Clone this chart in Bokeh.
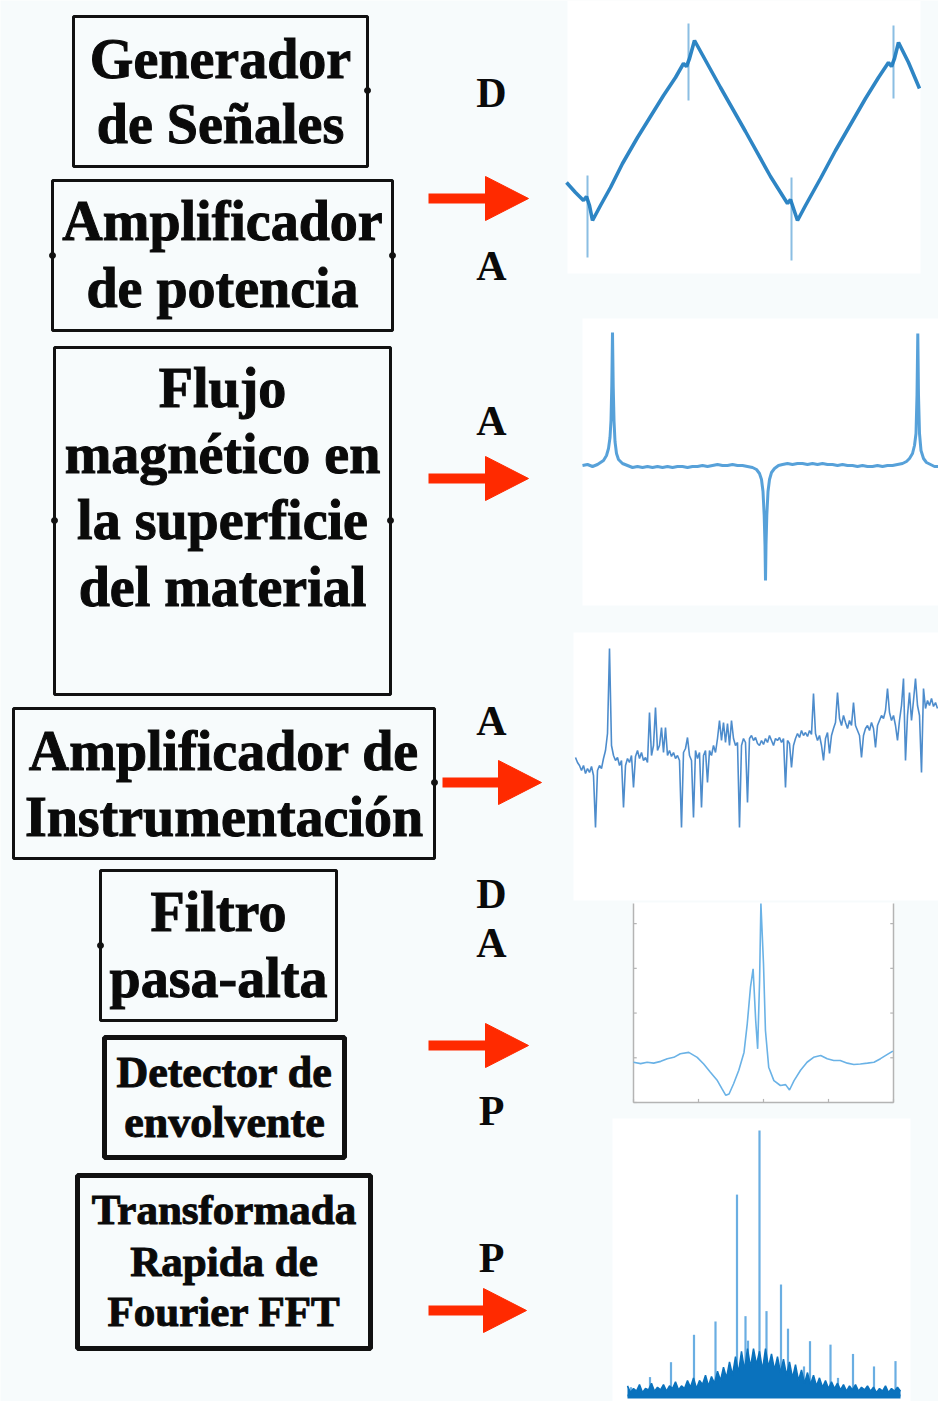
from bokeh.plotting import figure
from bokeh.models import Range1d
from bokeh.embed import file_html
from bokeh.resources import INLINE
from bokeh.core.properties import value

# ---------------- DATA ----------------
# Panel 1 - triangular excitation (time in ms, amplitude in V)
tri_t = [0.0, 0.9, 1.7, 2.0, 2.3, 2.6, 3.4, 4.4, 5.6, 7.1, 8.4, 9.7, 10.9, 11.7, 12.0, 12.3,
         12.8, 15.4, 17.9, 20.4, 22.1, 22.4, 22.7, 23.1, 23.9, 25.4, 26.9, 28.4, 29.9, 31.2,
         32.2, 32.5, 32.8, 33.2, 34.2, 35.3]
tri_v = [-0.52, -0.62, -0.70, -0.66, -0.75, -0.90, -0.75, -0.57, -0.33, -0.07, 0.14, 0.35, 0.53,
         0.67, 0.64, 0.72, 0.90, 0.43, -0.01, -0.46, -0.73, -0.69, -0.78, -0.90, -0.75, -0.48,
         -0.20, 0.06, 0.32, 0.53, 0.68, 0.64, 0.72, 0.88, 0.68, 0.42]
tri_spike_t = [2.1, 12.2, 22.5, 32.7]
tri_spike_lo = [-1.27, 0.30, -1.30, 0.32]
tri_spike_hi = [-0.45, 1.07, -0.47, 1.05]

# Panel 2 - magnetic flux at the material surface (time in ms, normalised flux)
flux_t = [0.0, 0.5, 1.0, 1.5, 1.8, 2.1, 2.4, 2.6, 2.75, 2.85, 2.93, 3.0, 3.07, 3.15, 3.25, 3.4,
          3.6, 4.0, 4.5, 5.0, 5.5, 6.0, 6.5, 7.0, 7.5, 8.0, 8.5, 9.0, 9.5, 10.0, 10.5, 11.0,
          11.5, 12.0, 12.5, 13.0, 13.5, 14.0, 14.5, 15.0, 15.5, 16.0, 16.5, 17.0, 17.4, 17.7,
          17.9, 18.05, 18.17, 18.25, 18.3, 18.35, 18.43, 18.55, 18.7, 18.9, 19.2, 19.6, 20.0,
          20.5, 21.0, 21.5, 22.0, 22.5, 23.0, 23.5, 24.0, 24.5, 25.0, 25.5, 26.0, 26.5, 27.0,
          27.5, 28.0, 28.5, 29.0, 29.5, 30.0, 30.5, 31.0, 31.5, 32.0, 32.4, 32.7, 33.0, 33.2,
          33.35, 33.45, 33.53, 33.6, 33.7, 33.85, 34.1, 34.4, 34.8, 35.2, 35.6]
flux_b = [0.00, 0.01, -0.01, 0.01, 0.03, 0.05, 0.10, 0.17, 0.28, 0.45, 0.80, 1.33, 0.80, 0.45,
          0.24, 0.12, 0.06, 0.02, 0.00, -0.02, -0.01, -0.02, -0.01, -0.02, -0.01, -0.02, -0.01,
          -0.02, -0.01, -0.01, -0.02, -0.01, -0.01, 0.00, -0.01, 0.00, 0.01, 0.00, 0.00, 0.01,
          0.00, 0.00, -0.01, -0.02, -0.04, -0.08, -0.14, -0.26, -0.50, -0.80, -1.15, -0.80,
          -0.50, -0.26, -0.14, -0.07, -0.03, 0.00, 0.01, 0.02, 0.01, 0.02, 0.02, 0.01, 0.02,
          0.01, 0.02, 0.01, 0.01, 0.00, 0.01, 0.00, 0.00, -0.01, 0.00, -0.01, -0.01, 0.00,
          -0.01, 0.00, 0.00, 0.01, 0.02, 0.04, 0.07, 0.12, 0.20, 0.32, 0.70, 1.32, 0.70, 0.32,
          0.15, 0.07, 0.03, 0.01, -0.01, -0.01]

# Panel 3 - instrumentation amplifier output (sample index, mV)
ins_n = list(range(182))
ins_v = [3, -2, -5, -10, -5, -13, -8, -12, -6, -15, -67, -10, -5, -8, 2, 10, 27, 112, 15, 5,
         0, 3, -5, 0, -47, -5, 2, -2, 5, -27, 4, 10, 2, 8, 0, 3, -2, 48, 5, 15,
         53, 10, 15, 33, 8, 33, 5, 10, 4, 8, 2, 5, 0, -67, 8, 12, 23, 5, 0, -57,
         10, 2, 8, -47, 5, 10, -22, 10, 5, 15, 8, 22, 40, 20, 38, 18, 37, 15, 40, 22,
         15, 18, -67, 15, 22, 18, -42, 22, 25, 20, 23, 17, 15, 20, 16, 22, 18, 25, 20, 15,
         22, 20, 23, 18, 22, -27, 20, 17, -7, 15, 22, 27, 23, 30, 25, 28, 24, 30, 26, 67,
         27, 20, 25, 15, 0, 22, 28, 7, 25, 32, 38, 68, 42, 35, 45, 38, 32, 40, 35, 58,
         35, 30, 25, 3, 25, 32, 35, 30, 38, 32, 13, 35, 40, 45, 42, 50, 72, 48, 40, 45,
         35, 20, 40, 55, 82, 0, 45, 68, 40, 60, 82, 55, 45, -12, 72, 52, 60, 55, 62, 54,
         58, 52]

# Panel 4 - high-pass filter / envelope (time in s, amplitude)
env_t = [0.00, 0.11, 0.21, 0.31, 0.42, 0.52, 0.62, 0.72, 0.85, 0.98, 1.08, 1.18, 1.29, 1.36,
         1.42, 1.47, 1.54, 1.62, 1.70, 1.75, 1.80, 1.84, 1.88, 1.91, 1.94, 1.96, 2.00, 2.03,
         2.08, 2.16, 2.26, 2.34, 2.40, 2.47, 2.57, 2.67, 2.77, 2.88, 2.98, 3.08, 3.18, 3.29,
         3.39, 3.49, 3.60, 3.70, 3.80, 3.90, 3.99]
env_a = [0.90, 0.87, 0.90, 0.88, 0.92, 0.98, 1.01, 1.09, 1.12, 1.01, 0.86, 0.68, 0.49, 0.31,
         0.16, 0.19, 0.42, 0.72, 1.12, 1.76, 2.58, 2.99, 1.83, 1.20, 2.73, 4.45, 3.10, 1.61,
         0.79, 0.49, 0.38, 0.40, 0.28, 0.49, 0.72, 0.90, 1.01, 1.05, 0.98, 0.94, 0.94, 0.88,
         0.85, 0.86, 0.88, 0.90, 0.98, 1.07, 1.15]
env_xticks = [0, 1, 2, 3, 4]
env_yticks = [0, 1, 2, 3, 4]

# Panel 5 - FFT spectrum (frequency in Hz, normalised magnitude)
fft_peak_f = [7, 45, 87, 133, 176, 219, 236, 241, 264, 278, 307, 321, 353, 365, 406, 421, 451, 493, 536]
fft_peak_m = [0.035, 0.073, 0.129, 0.232, 0.282, 0.759, 0.302, 0.21, 1.0, 0.321, 0.421, 0.255,
              0.113, 0.208, 0.195, 0.07, 0.16, 0.113, 0.133]
fft_floor_f = list(range(0, 547, 6))
fft_floor_m = [0.04, 0.015, 0.03, 0.02, 0.045, 0.015, 0.03, 0.025, 0.05, 0.02, 0.035,
               0.025, 0.045, 0.02, 0.04, 0.03, 0.055, 0.025, 0.04, 0.03, 0.06,
               0.035, 0.07, 0.03, 0.06, 0.045, 0.08, 0.04, 0.075, 0.05, 0.095,
               0.06, 0.11, 0.07, 0.13, 0.08, 0.15, 0.09, 0.17, 0.10, 0.18,
               0.11, 0.18, 0.12, 0.17, 0.10, 0.18, 0.11, 0.16, 0.10, 0.15,
               0.09, 0.14, 0.08, 0.13, 0.07, 0.12, 0.06, 0.10, 0.05, 0.09,
               0.045, 0.08, 0.04, 0.07, 0.035, 0.06, 0.03, 0.055, 0.03, 0.05,
               0.025, 0.045, 0.02, 0.04, 0.025, 0.045, 0.02, 0.035, 0.025, 0.04,
               0.02, 0.035, 0.015, 0.03, 0.02, 0.04, 0.015, 0.03, 0.02, 0.035, 0.02]

# Block diagram texts
block_lines = [
    ["Generador", "de Señales"],
    ["Amplificador", "de potencia"],
    ["Flujo", "magnético en", "la superficie", "del material"],
    ["Amplificador de", "Instrumentación"],
    ["Filtro", "pasa-alta"],
    ["Detector de", "envolvente"],
    ["Transformada", "Rapida de", "Fourier FFT"],
]
stage_letters = ["D", "A", "A", "A", "D", "A", "P", "P"]

# ---------------- LAYOUT ----------------
W, H = 938, 1401
BG = "#f7fbfc"
p = figure(width=W, height=H, x_range=Range1d(0, W), y_range=Range1d(H, 0),
           output_backend="svg", toolbar_location=None, min_border=0)
p.axis.visible = False
p.grid.visible = False
p.outline_line_color = None
p.background_fill_color = BG
p.border_fill_color = BG

SERIF = value("Liberation Serif")
INK = "#0a0a0a"

# boxes: left, right, top, bottom, border width, font size, line y centres
boxes = [
    (73, 367, 16, 166, 3, 56, [58, 123]),
    (52, 392, 180, 330, 3, 56, [220, 287]),
    (54, 390, 347, 694, 3, 56, [387, 453, 519, 586]),
    (13, 434, 708, 858, 3, 56, [750, 816]),
    (100, 336, 870, 1020, 3, 56, [911, 977]),
    (104, 344, 1037, 1157, 5, 44, [1072, 1122]),
    (77, 370, 1175, 1348, 5, 43, [1209, 1261, 1311]),
]
for (l, r, t, b, lw, fs, ys), lines in zip(boxes, block_lines):
    p.quad(left=[l], right=[r], top=[t], bottom=[b], fill_color=None,
           line_color="#111111", line_width=lw)
    p.text(x=[(l + r) / 2] * len(lines), y=ys, text=lines, text_font=SERIF,
           text_font_style="bold", text_font_size=f"{fs}px", text_color=INK,
           text_outline_color=INK, text_align="center", text_baseline="middle")

# small connector dots on the boxes
p.scatter(x=[367, 52, 392, 54, 390, 434, 100], y=[90, 255, 255, 520, 520, 782, 945],
          size=6, color="#111111")

# stage letters
p.text(x=[491] * 8, y=[92, 265, 420, 720, 893, 942, 1110, 1257], text=stage_letters,
       text_font=SERIF, text_font_style="bold", text_font_size="42px",
       text_color=INK, text_align="center", text_baseline="middle")

# red arrows
RED = "#ff2a00"
arrows = [(428, 528, 198), (428, 528, 478), (442, 541, 782), (428, 528, 1045), (428, 526, 1310)]
for x0, x1, yy in arrows:
    p.segment(x0=[x0], y0=[yy], x1=[x1 - 40], y1=[yy], line_color=RED, line_width=10)
    p.patches(xs=[[x1 - 43, x1, x1 - 43]], ys=[[yy - 22, yy, yy + 22]], fill_color=RED,
              line_color=RED, line_width=1)

# white panels behind the signal plots
p.quad(left=[567, 582, 573, 633, 612], right=[920, 938, 938, 893, 910],
       top=[0, 318, 632, 902, 1118], bottom=[273, 605, 900, 1102, 1401],
       fill_color="white", line_color=None)

# Panel 1
s1 = p.subplot(x_source=Range1d(0, 35.4), y_source=Range1d(-0.9, 0.9),
               x_target=Range1d(566, 920), y_target=Range1d(220, 40))
s1.segment(x0=tri_spike_t, y0=tri_spike_lo, x1=tri_spike_t, y1=tri_spike_hi,
           line_color="#3d92d0", line_width=2, line_alpha=0.6)
s1.line(tri_t, tri_v, line_color="#1778be", line_width=3.6, line_alpha=0.9)

# Panel 2
s2 = p.subplot(x_source=Range1d(0, 35.6), y_source=Range1d(-1.2, 1.4),
               x_target=Range1d(582, 938), y_target=Range1d(585, 325))
s2.line(flux_t, flux_b, line_color="#3a90d2", line_width=3, line_alpha=0.85)

# Panel 3
s3 = p.subplot(x_source=Range1d(0, 181), y_source=Range1d(-80, 120),
               x_target=Range1d(575, 937), y_target=Range1d(840, 640))
s3.line(ins_n, ins_v, line_color="#3a80c6", line_width=1.6, line_alpha=0.9)

# Panel 4 (with light axes frame)
s4 = p.subplot(x_source=Range1d(0, 4), y_source=Range1d(0, 4.45),
               x_target=Range1d(633, 893), y_target=Range1d(1102, 903))
GREY = "#b4b4b4"
s4.segment(x0=[0, 4, 0], y0=[0, 0, 0], x1=[0, 4, 4], y1=[4.45, 4.45, 0],
           line_color=GREY, line_width=1.5)
s4.segment(x0=env_xticks, y0=[0] * 5, x1=env_xticks, y1=[0.08] * 5,
           line_color=GREY, line_width=1.2)
s4.segment(x0=[0] * 5, y0=env_yticks, x1=[0.05] * 5, y1=env_yticks,
           line_color=GREY, line_width=1.2)
s4.segment(x0=[4] * 5, y0=env_yticks, x1=[3.95] * 5, y1=env_yticks,
           line_color=GREY, line_width=1.2)
s4.line(env_t, env_a, line_color="#6ab2e6", line_width=1.6)

# Panel 5
s5 = p.subplot(x_source=Range1d(0, 546), y_source=Range1d(0, 1.0),
               x_target=Range1d(627, 900), y_target=Range1d(1396, 1130))
s5.segment(x0=fft_peak_f, y0=[0] * len(fft_peak_f), x1=fft_peak_f, y1=fft_peak_m,
           line_color="#6aaee2", line_width=2.2)
s5.varea(x=fft_floor_f, y1=[0] * len(fft_floor_f), y2=fft_floor_m, fill_color="#0a72bd")
s5.line(fft_floor_f, fft_floor_m, line_color="#0a72bd", line_width=1.5)
s5.segment(x0=[0], y0=[0], x1=[546], y1=[0], line_color="#0a72bd", line_width=4)

open("out.html", "w").write(file_html(p, INLINE))
